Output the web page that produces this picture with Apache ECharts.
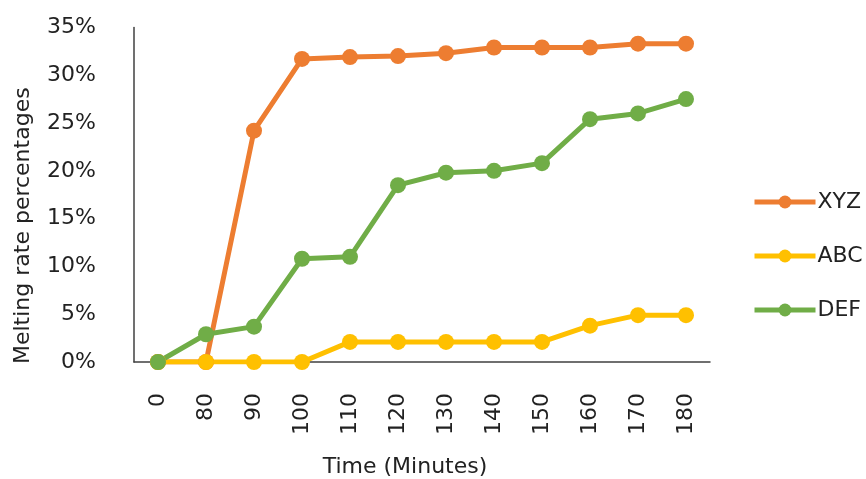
<!DOCTYPE html>
<html><head><meta charset="utf-8">
<script src="https://cdn.jsdelivr.net/npm/echarts@6/dist/echarts.min.js"></script>
<style>html,body{margin:0;padding:0;background:#fff}#c{width:866px;height:479px}</style>
</head><body><div id="c"></div>
<script>
const categories = ['0','80','90','100','110','120','130','140','150','160','170','180'];
const xyz = [0, 0, 24.2, 31.7, 31.9, 32.0, 32.3, 32.9, 32.9, 32.9, 33.3, 33.3];
const abc = [0, 0, 0, 0, 2.1, 2.1, 2.1, 2.1, 2.1, 3.8, 4.9, 4.9];
const def = [0, 2.9, 3.7, 10.8, 11.0, 18.5, 19.8, 20.0, 20.8, 25.4, 26.0, 27.5];
const yTicks = [0, 5, 10, 15, 20, 25, 30, 35];

const FONT = 'DejaVu Sans';
const FS = 22;
const chart = echarts.init(document.getElementById('c'), null, {renderer:'canvas'});
function mk(name, data, color){
  return {name, type:'line', data, symbol:'circle', symbolSize:16,
    lineStyle:{width:5, color}, itemStyle:{color}, animation:false};
}
chart.setOption({
  animation:false,
  textStyle:{fontFamily:FONT},
  grid:{left:134, right:156, top:27.4, bottom:117, containLabel:false, outerBoundsMode:'none'},
  legend:{orient:'vertical', left:747, top:186, itemWidth:61, itemHeight:16, itemGap:32,
    lineStyle:{width:5},
    textStyle:{fontFamily:FONT, fontSize:FS, color:'#222', padding:[0,0,0,-3]},
    data:['XYZ','ABC','DEF']},
  xAxis:{type:'category', data:categories, boundaryGap:true,
    axisLine:{lineStyle:{color:'#404040', width:1.5}}, axisTick:{show:false},
    axisLabel:{rotate:90, margin:31, fontSize:FS, color:'#222', fontFamily:FONT, interval:0},
    name:'Time (Minutes)', nameLocation:'middle', nameGap:94,
    nameTextStyle:{fontSize:FS, color:'#222', fontFamily:FONT, padding:[0,34,0,0]}},
  yAxis:{type:'value', min:yTicks[0], max:yTicks[yTicks.length-1], interval:5,
    axisLine:{show:true, lineStyle:{color:'#404040', width:1.5}}, axisTick:{show:false},
    splitLine:{show:false},
    axisLabel:{formatter:v=>v+'%', fontSize:FS, color:'#222', fontFamily:FONT, margin:38},
    name:'Melting rate percentages', nameLocation:'middle', nameGap:100,
    nameTextStyle:{fontSize:FS, color:'#222', fontFamily:FONT, padding:[0,62,0,0]}},
  series:[mk('XYZ', xyz, '#ED7D31'), mk('ABC', abc, '#FFC000'), mk('DEF', def, '#70AD47')]
});
</script></body></html>
